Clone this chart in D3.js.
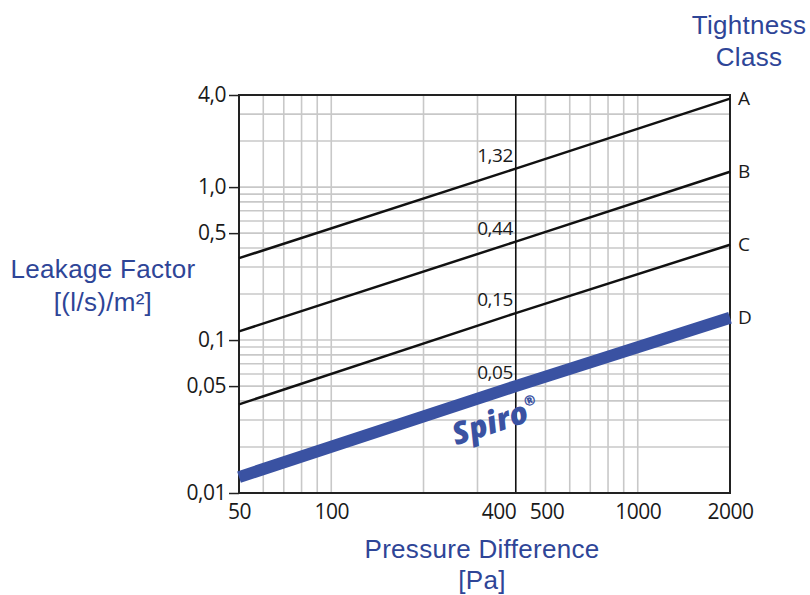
<!DOCTYPE html>
<html>
<head>
<meta charset="utf-8">
<script src="https://cdn.jsdelivr.net/npm/d3@7"></script>
<style>
  body { margin: 0; background: #fff; }
  svg { display: block; }
</style>
</head>
<body>
<svg width="810" height="595"></svg>
<script>
// pressure points where the class lines were read
const pressures = [50, 400, 2000];
const classNames = ["A", "B", "C", "D"];
const classA = [0.343, 1.32, 3.79];
const classB = [0.114, 0.44, 1.26];
const classC = [0.038, 0.15, 0.42];
const classD = [0.0127, 0.05, 0.14];
const midLabels = ["1,32", "0,44", "0,15", "0,05"];

const xTicks = [50, 100, 400, 500, 1000, 2000];
const xGrid = [60, 70, 80, 90, 100, 200, 300, 500, 600, 700, 800, 900, 1000];
const yTicks = [0.01, 0.05, 0.1, 0.5, 1.0, 4.0];
const yTickLabels = ["0,01", "0,05", "0,1", "0,5", "1,0", "4,0"];
const yGrid = [0.02, 0.03, 0.04, 0.05, 0.06, 0.07, 0.08, 0.09, 0.1,
  0.2, 0.3, 0.4, 0.5, 0.6, 0.7, 0.8, 0.9, 1, 2, 3];

const blue = "#2e4597";
const tickFont = "'Open Sans', sans-serif";
const svg = d3.select("svg");
const plotL = 239, plotR = 730, plotT = 95, plotB = 493;

const x = d3.scaleLog().domain([50, 2000]).range([plotL, plotR]);
const y = d3.scaleLog().domain([0.01, 4]).range([plotB, plotT]);

// grid
svg.append("g")
  .selectAll("line")
  .data(xGrid)
  .enter()
  .append("line")
  .attr("x1", (d) => x(d)).attr("x2", (d) => x(d))
  .attr("y1", plotT).attr("y2", plotB)
  .attr("stroke", "#c8c8c8")
  .attr("stroke-width", 1.6);

svg.append("g")
  .selectAll("line")
  .data(yGrid)
  .enter()
  .append("line")
  .attr("x1", plotL).attr("x2", plotR)
  .attr("y1", (d) => y(d)).attr("y2", (d) => y(d))
  .attr("stroke", "#c8c8c8")
  .attr("stroke-width", 1.6);

// 400 Pa reference line
svg.append("line")
  .attr("x1", x(400)).attr("x2", x(400))
  .attr("y1", plotT).attr("y2", plotB)
  .attr("stroke", "#111")
  .attr("stroke-width", 1.6);

// frame
svg.append("rect")
  .attr("x", plotL).attr("y", plotT)
  .attr("width", plotR - plotL).attr("height", plotB - plotT)
  .attr("fill", "none")
  .attr("stroke", "#222")
  .attr("stroke-width", 2);

// axes
const yAxis = d3.axisLeft(y)
  .tickValues(yTicks)
  .tickFormat((d, i) => yTickLabels[i])
  .tickSize(10)
  .tickPadding(3);
const gy = svg.append("g").attr("transform", `translate(${plotL},0)`).call(yAxis);
gy.select(".domain").remove();
gy.selectAll("line").attr("stroke", "#222").attr("stroke-width", 1.5);
gy.selectAll("text")
  .style("font-family", tickFont)
  .style("font-size", "21px")
  .style("letter-spacing", "-0.5px")
  .attr("fill", "#1a1a1a");

const xAxis = d3.axisBottom(x)
  .tickValues(xTicks)
  .tickFormat(d3.format("d"))
  .tickSize(0)
  .tickPadding(11);
const gx = svg.append("g").attr("transform", `translate(0,${plotB})`).call(xAxis);
gx.select(".domain").remove();
gx.selectAll("text")
  .style("font-family", tickFont)
  .style("font-size", "21px")
  .style("letter-spacing", "-0.5px")
  .attr("fill", "#1a1a1a")
  .attr("text-anchor", (d) => (d === 400 ? "end" : "middle"))
  .attr("dx", (d) => (d === 500 ? "1" : "0"));

// class lines
const series = [classA, classB, classC, classD];
const line = d3.line()
  .x((d, i) => x(pressures[i]))
  .y((d) => y(d));

svg.append("g")
  .selectAll("path")
  .data(series)
  .enter()
  .append("path")
  .attr("d", line)
  .attr("fill", "none")
  .attr("stroke", (d, i) => (i === 3 ? "#3a52a2" : "#111"))
  .attr("stroke-width", (d, i) => (i === 3 ? 12 : 2.5));

// value labels at 400 Pa
svg.append("g")
  .selectAll("text")
  .data(series)
  .enter()
  .append("text")
  .text((d, i) => midLabels[i])
  .attr("x", x(400) - 3)
  .attr("y", (d) => y(d[1]) - 7)
  .attr("text-anchor", "end")
  .style("font-family", tickFont)
  .style("font-size", "19px")
  .style("letter-spacing", "-0.5px")
  .attr("fill", "#1a1a1a");

// class letters
svg.append("g")
  .selectAll("text")
  .data(series)
  .enter()
  .append("text")
  .text((d, i) => classNames[i])
  .attr("x", plotR + 8)
  .attr("y", (d) => y(d[2]) + 6)
  .style("font-family", tickFont)
  .style("font-size", "19px")
  .attr("fill", "#1a1a1a");

// Spiro brand mark along line D
const angle = Math.atan2(y(classD[2]) - y(classD[0]), x(2000) - x(50)) * 180 / Math.PI;
const spiro = svg.append("text")
  .attr("transform", `translate(${x(352)},${y(0.0252)}) rotate(${angle})`)
  .attr("text-anchor", "middle")
  .style("font-family", tickFont)
  .style("font-size", "31px")
  .style("font-weight", "800")
  .style("font-style", "italic")
  .attr("fill", "#3a52a2");
spiro.append("tspan").text("Spiro");
spiro.append("tspan").text("®").attr("font-size", "14px").attr("dy", -15);

// titles
const titles = [
  { text: "Tightness", x: 749, y: 34 },
  { text: "Class", x: 749, y: 66 },
  { text: "Leakage Factor", x: 103, y: 278 },
  { text: "[(l/s)/m²]", x: 103, y: 311 },
  { text: "Pressure Difference", x: 482, y: 558 },
  { text: "[Pa]", x: 482, y: 589 }
];
svg.append("g")
  .selectAll("text")
  .data(titles)
  .enter()
  .append("text")
  .text((d) => d.text)
  .attr("x", (d) => d.x)
  .attr("y", (d) => d.y)
  .attr("text-anchor", "middle")
  .style("font-family", "'Liberation Sans', Arial, sans-serif")
  .style("font-size", "26px")
  .style("letter-spacing", "0.3px")
  .attr("fill", blue);
</script>
</body>
</html>
